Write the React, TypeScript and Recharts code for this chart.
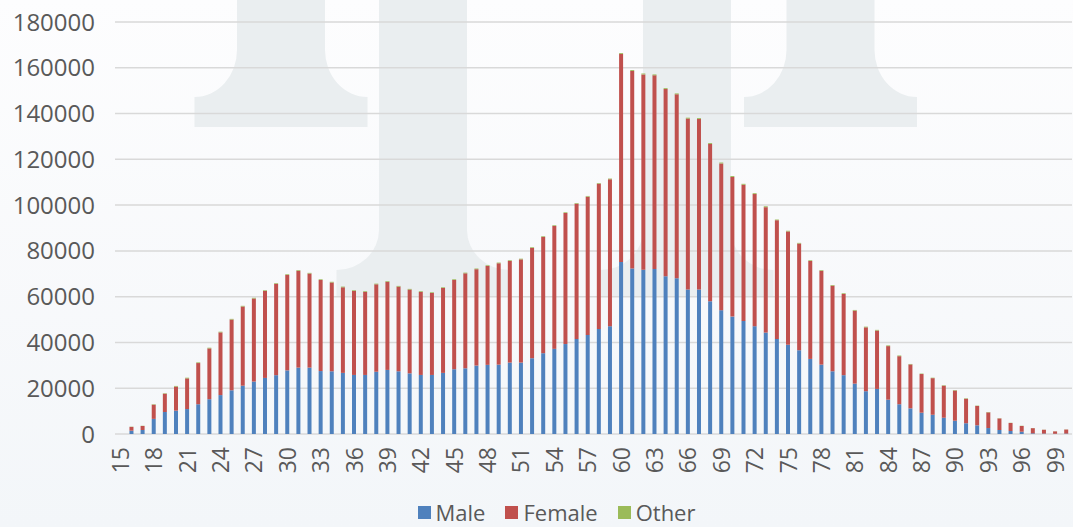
import React from "react";
import { Bar, BarChart, CartesianGrid, Legend, XAxis, YAxis } from "recharts";

const AGES: number[] = [
  15, 16, 17, 18, 19, 20, 21, 22, 23, 24, 25, 26, 27, 28, 29, 30, 31, 32, 33, 34,
  35, 36, 37, 38, 39, 40, 41, 42, 43, 44, 45, 46, 47, 48, 49, 50, 51, 52, 53, 54,
  55, 56, 57, 58, 59, 60, 61, 62, 63, 64, 65, 66, 67, 68, 69, 70, 71, 72, 73, 74,
  75, 76, 77, 78, 79, 80, 81, 82, 83, 84, 85, 86, 87, 88, 89, 90, 91, 92, 93, 94,
  95, 96, 97, 98, 99, 100,
];

const MALE: number[] = [
  0, 1450, 1750, 6600, 9600, 10200, 10900, 13000, 15200, 17000, 19100, 21100,
  22900, 24500, 25700, 27800, 29000, 29000, 27500, 27400, 26700, 25800, 25800,
  27200, 28000, 27400, 26500, 25800, 25800, 26700, 28300, 28700, 29900, 30200,
  30300, 31200, 31200, 33100, 35300, 37200, 39300, 41500, 43300, 45900, 47100,
  75100, 72300, 71800, 72100, 68900, 68100, 63100, 63100, 58000, 54100, 51300,
  49400, 47100, 44300, 41500, 39000, 36600, 32800, 30300, 27400, 25700, 22000,
  18700, 19700, 15000, 13000, 11200, 9300, 8400, 7100, 5800, 4700, 3800, 2600,
  1750, 1300, 1000, 300, 200, 100, 200,
];

const FEMALE: number[] = [
  0, 1650, 1750, 6200, 8000, 10500, 13400, 18000, 22200, 27400, 30900, 34600,
  36300, 38000, 39900, 41700, 42300, 41100, 39800, 38800, 37400, 36700, 36300,
  38200, 38500, 37000, 36600, 36300, 35800, 37100, 39000, 41500, 42100, 43200,
  44300, 44400, 45100, 48200, 50800, 53700, 57300, 59100, 60400, 63400, 64200,
  90900, 86300, 85300, 84600, 81800, 80300, 74700, 74500, 68700, 64100, 61000,
  59500, 57700, 54800, 51900, 49500, 46600, 42800, 41000, 37400, 35500, 31900,
  27900, 25500, 23400, 21000, 19200, 16900, 16000, 14000, 13200, 10700, 8450,
  6850, 5050, 3500, 2500, 2250, 1650, 1050, 1750,
];

const OTHER: number[] = [
  0, 100, 100, 200, 200, 300, 300, 300, 300, 300, 300, 300, 300, 300, 300, 300,
  300, 300, 300, 300, 300, 300, 300, 300, 300, 300, 300, 300, 300, 300, 300, 300,
  300, 300, 300, 300, 300, 300, 300, 300, 300, 300, 300, 300, 300, 400, 400, 400,
  400, 400, 400, 400, 400, 400, 400, 400, 400, 400, 400, 300, 300, 300, 300, 300,
  300, 300, 300, 300, 300, 300, 300, 200, 200, 200, 200, 200, 200, 150, 150, 100,
  100, 100, 50, 50, 50, 50,
];

const Y_TICKS = [0, 20000, 40000, 60000, 80000, 100000, 120000, 140000, 160000, 180000];

const SERIES = [
  { key: "Male", color: "#4f81bd" },
  { key: "Female", color: "#c0504d" },
  { key: "Other", color: "#9bbb59" },
];

const FONT = "'Open Sans', 'Liberation Sans', sans-serif";
const TEXT = "#595959";

const data = AGES.map((age, i) => ({
  age,
  Male: MALE[i],
  Female: FEMALE[i],
  Other: OTHER[i],
}));

// light logo shapes behind the plot
const WATERMARK = [
  { cx: 281, y1: 50, y2: 97, y3: 127 },
  { cx: 830.5, y1: 50, y2: 97, y3: 127 },
  { cx: 423, y1: 230, y2: 270, y3: 297 },
  { cx: 687, y1: 230, y2: 270, y3: 297 },
];

function shapePath(cx: number, y1: number, y2: number, y3: number) {
  const w = 44;
  const b = 86.5;
  const rx = b - w;
  const ry = y2 - y1;
  return `M${cx - w},-5 L${cx + w},-5 L${cx + w},${y1} A${rx} ${ry} 0 0 0 ${cx + b},${y2} L${cx + b},${y3} L${cx - b},${y3} L${cx - b},${y2} A${rx} ${ry} 0 0 0 ${cx - w},${y1} Z`;
}

function AgeTick(props: any) {
  const { x, y, payload } = props;
  return (
    <g transform={`translate(${x},${y})`}>
      <text
        transform="rotate(-90)"
        x={0}
        y={0}
        dy="0.36em"
        textAnchor="end"
        fill={TEXT}
        fontSize={23}
        fontFamily={FONT}
      >
        {payload.value}
      </text>
    </g>
  );
}

function LegendContent() {
  return (
    <div
      style={{
        display: "flex",
        justifyContent: "center",
        alignItems: "center",
        paddingLeft: 40,
        height: 30,
        lineHeight: "30px",
        fontFamily: FONT,
        fontSize: 22,
        color: TEXT,
      }}
    >
      {SERIES.map((s, i) => (
        <div
          key={s.key}
          style={{ display: "flex", alignItems: "center", marginLeft: i === 0 ? 0 : 20 }}
        >
          <span
            style={{ display: "inline-block", width: 13, height: 13, background: s.color, marginRight: 5 }}
          />
          {s.key}
        </div>
      ))}
    </div>
  );
}

export default function App() {
  return (
    <div
      style={{
        position: "absolute",
        left: 0,
        top: 0,
        width: 1073,
        height: 527,
        background: "linear-gradient(#fdfdfe, #f3f6f9)",
        overflow: "hidden",
      }}
    >
      <svg width={1073} height={527} style={{ position: "absolute", left: 0, top: 0 }}>
        {WATERMARK.map((m, i) => (
          <path key={i} d={shapePath(m.cx, m.y1, m.y2, m.y3)} fill="#eaeef0" />
        ))}
      </svg>
      <div style={{ position: "absolute", left: 0, top: 0 }}>
        <BarChart
          width={1073}
          height={527}
          data={data}
          margin={{ top: 22, right: 1, left: 15, bottom: 0 }}
          barCategoryGap="30%"
        >
          <CartesianGrid vertical={false} stroke="#d9d9d9" strokeWidth={1.5} />
          <XAxis
            dataKey="age"
            interval={2}
            height={63}
            axisLine={false}
            tickLine={false}
            tickSize={0}
            tickMargin={13}
            tick={<AgeTick />}
          />
          <YAxis
            width={100}
            domain={[0, 180000]}
            ticks={Y_TICKS}
            axisLine={false}
            tickLine={false}
            tickSize={0}
            tickMargin={20}
            tick={{ fill: TEXT, fontSize: 24, fontFamily: FONT }}
          />
          <Legend
            verticalAlign="bottom"
            height={30}
            content={<LegendContent />}
            wrapperStyle={{ left: 0, width: 1073 }}
          />
          {SERIES.map((s) => (
            <Bar
              key={s.key}
              dataKey={s.key}
              stackId="pop"
              fill={s.color}
              isAnimationActive={false}
            />
          ))}
        </BarChart>
      </div>
    </div>
  );
}
